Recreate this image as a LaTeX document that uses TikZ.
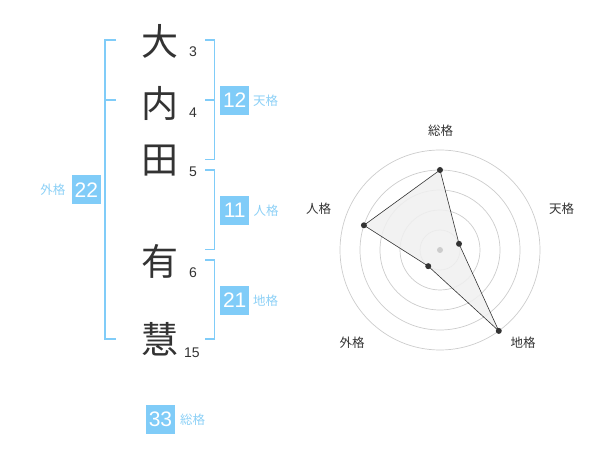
\documentclass[tikz,border=0pt]{standalone}
\usepackage{fontspec}
\setmainfont{Liberation Sans}
\newfontfamily\jp{Noto Sans CJK JP}
\definecolor{kblue}{HTML}{80CCF8}
\definecolor{klabel}{HTML}{8CD0F6}
\definecolor{ktext}{HTML}{333333}
\definecolor{kring}{HTML}{CCCCCC}
\definecolor{kfill}{HTML}{F0F0F0}
\begin{document}
\begin{tikzpicture}[x=1pt,y=-1pt,
  kanji/.style={font=\jp\fontsize{37}{37}\selectfont, text=ktext, inner sep=0pt},
  snum/.style={font=\fontsize{14}{14}\selectfont, text=ktext, inner sep=0pt},
  box/.style={fill=kblue, text=white, minimum width=29pt, minimum height=29pt, inner sep=0pt, font=\fontsize{21}{21}\selectfont},
  klab/.style={font=\jp\fontsize{12.5}{12.5}\selectfont, text=klabel, inner sep=0pt},
  brk/.style={draw=kblue, line width=1.9pt},
  ring/.style={draw=kring, line width=0.7pt},
  rlab/.style={font=\jp\fontsize{12.5}{12.5}\selectfont, text=ktext, inner sep=0pt},
  dot/.style={circle, fill=ktext, minimum size=6pt, inner sep=0pt}]
\useasboundingbox (0,0) rectangle (600,470);
% characters
\node[kanji] (c1) at (160,41) {大};
\node[kanji] (c2) at (160,103) {内};
\node[kanji] (c3) at (160,161) {田};
\node[kanji] (c4) at (160,261) {有};
\node[kanji] (c5) at (160,339) {慧};
% stroke counts
\node[snum] (s1) at (193,52) {3};
\node[snum] (s2) at (193,113) {4};
\node[snum] (s3) at (193,172) {5};
\node[snum] (s4) at (193,272.5) {6};
\node[snum] (s5) at (192,352.5) {15};
% bracket coordinates
\coordinate (L1) at (116,40); \coordinate (L2) at (105,40);
\coordinate (L3) at (105,339); \coordinate (L4) at (116,339);
\coordinate (Lm) at (105,100); \coordinate (Lt) at (116,100);
\coordinate (T1) at (205,40); \coordinate (T2) at (214.5,40);
\coordinate (T3) at (214.5,159.5); \coordinate (T4) at (205,159.5);
\coordinate (Tm) at (214.5,100); \coordinate (Tt) at (205,100);
\coordinate (J1) at (205,170); \coordinate (J2) at (214.5,170);
\coordinate (J3) at (214.5,249.5); \coordinate (J4) at (205,249.5);
\coordinate (G1) at (205,260); \coordinate (G2) at (214.5,260);
\coordinate (G3) at (214.5,339); \coordinate (G4) at (205,339);
\draw[brk] (L1) -- (L2) -- (L3) -- (L4);
\draw[brk] (Lm) -- (Lt);
\draw[brk] (T1) -- (T2) -- (T3) -- (T4);
\draw[brk] (Tm) -- (Tt);
\draw[brk] (J1) -- (J2) -- (J3) -- (J4);
\draw[brk] (G1) -- (G2) -- (G3) -- (G4);
% boxes and labels
\node[box] (b12) at (234.7,100.5) {12};
\node[klab, anchor=west] (l12) at (253,100.5) {天格};
\node[box] (b11) at (234.7,210.5) {11};
\node[klab, anchor=west] (l11) at (253.5,210.5) {人格};
\node[box] (b21) at (234.7,300.5) {21};
\node[klab, anchor=west] (l21) at (253,300.5) {地格};
\node[box] (b22) at (86.3,190) {22};
\node[klab, anchor=east] (l22) at (65.5,190) {外格};
\node[box] (b33) at (160.5,419) {33};
\node[klab, anchor=west] (l33) at (180,420) {総格};
% radar
\coordinate (O) at (440,250);
\foreach \r in {20,40,60,80,100} \draw[ring] (O) circle (\r);
\path (O) ++(0,-80) coordinate (pSou);
\path (O) ++({20*cos(18)},{-20*sin(18)}) coordinate (pTen);
\path (O) ++({100*cos(-54)},{-100*sin(-54)}) coordinate (pChi);
\path (O) ++({20*cos(-126)},{-20*sin(-126)}) coordinate (pGai);
\path (O) ++({80*cos(162)},{-80*sin(162)}) coordinate (pJin);
\draw[fill=kfill, fill opacity=0.85, draw=ktext, line width=0.6pt] (pSou) -- (pTen) -- (pChi) -- (pGai) -- (pJin) -- cycle;
\fill[kring] (O) circle (3);
\foreach \p in {pSou,pTen,pChi,pGai,pJin} \node[dot] at (\p) {};
\node[rlab] (r1) at (440.5,130.5) {総格};
\node[rlab] (r2) at (561.5,209) {天格};
\node[rlab] (r3) at (523,342.5) {地格};
\node[rlab] (r4) at (352,342.5) {外格};
\node[rlab] (r5) at (318.5,209) {人格};
\end{tikzpicture}
\end{document}
